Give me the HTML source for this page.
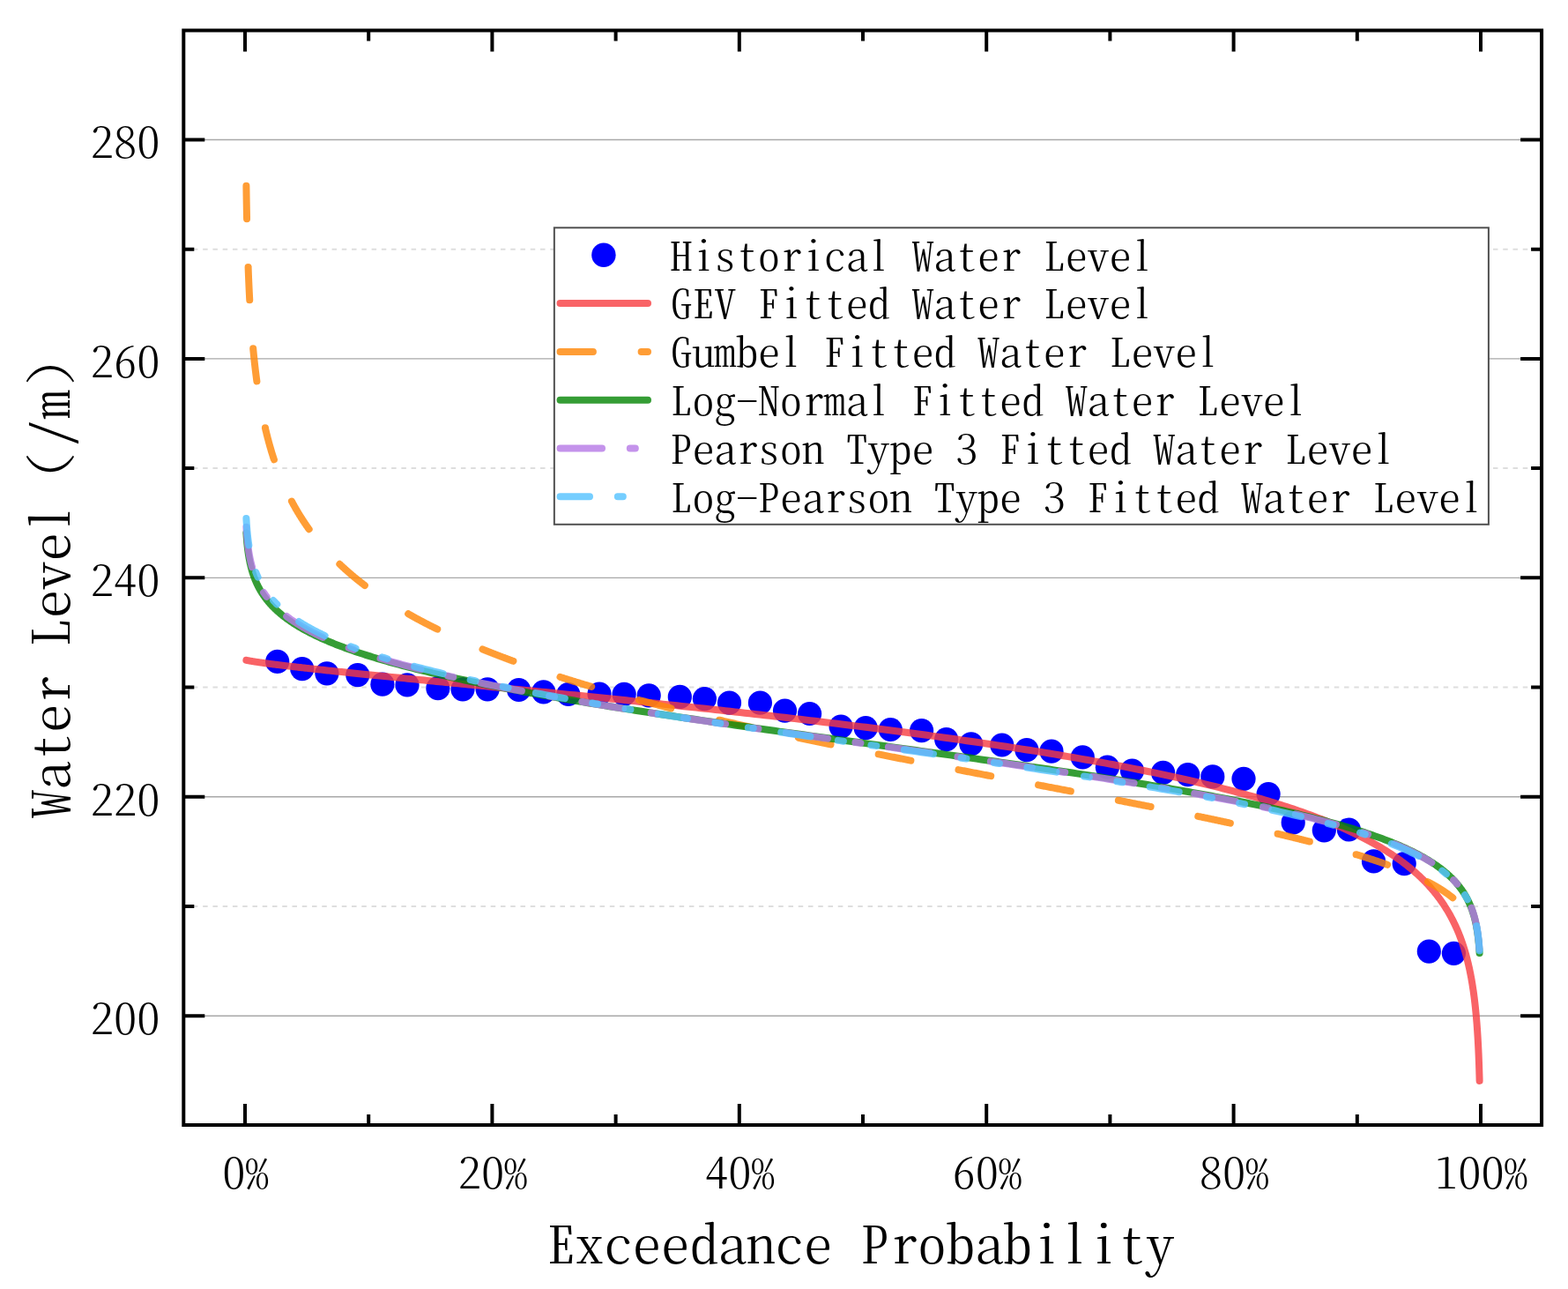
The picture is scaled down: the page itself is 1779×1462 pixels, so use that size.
<!DOCTYPE html><html><head><meta charset="utf-8"><title>Exceedance Probability</title>
<style>html,body{margin:0;padding:0;background:#fff;width:1779px;height:1462px}svg{display:block}.t{font-family:"Noto Serif CJK SC","Liberation Serif",serif;font-feature-settings:"hwid" 1;font-weight:300;fill:#000}.fw{font-feature-settings:normal}</style></head><body>
<svg width="1779" height="1462" viewBox="0 0 1779 1462">
<rect width="1779" height="1462" fill="#fff"/>
<line x1="218.9" y1="282.67" x2="1747.1" y2="282.67" stroke="#dedede" stroke-width="2" stroke-dasharray="5.5 5.76"/>
<line x1="218.9" y1="531.12" x2="1747.1" y2="531.12" stroke="#dedede" stroke-width="2" stroke-dasharray="5.5 5.76"/>
<line x1="218.9" y1="779.58" x2="1747.1" y2="779.58" stroke="#dedede" stroke-width="2" stroke-dasharray="5.5 5.76"/>
<line x1="218.9" y1="1028.02" x2="1747.1" y2="1028.02" stroke="#dedede" stroke-width="2" stroke-dasharray="5.5 5.76"/>
<line x1="208.3" y1="158.45" x2="1749.1" y2="158.45" stroke="#a8a8a8" stroke-width="1.4"/>
<line x1="208.3" y1="406.90" x2="1749.1" y2="406.90" stroke="#a8a8a8" stroke-width="1.4"/>
<line x1="208.3" y1="655.35" x2="1749.1" y2="655.35" stroke="#a8a8a8" stroke-width="1.4"/>
<line x1="208.3" y1="903.80" x2="1749.1" y2="903.80" stroke="#a8a8a8" stroke-width="1.4"/>
<line x1="208.3" y1="1152.25" x2="1749.1" y2="1152.25" stroke="#a8a8a8" stroke-width="1.4"/>
<g fill="#0000ff">
<circle cx="314.7" cy="750.4" r="13.6"/>
<circle cx="342.8" cy="758.7" r="13.6"/>
<circle cx="370.9" cy="763.8" r="13.6"/>
<circle cx="405.8" cy="765.6" r="13.6"/>
<circle cx="433.9" cy="776.2" r="13.6"/>
<circle cx="462.0" cy="776.9" r="13.6"/>
<circle cx="496.9" cy="780.7" r="13.6"/>
<circle cx="525.0" cy="781.8" r="13.6"/>
<circle cx="553.1" cy="781.8" r="13.6"/>
<circle cx="588.6" cy="782.5" r="13.6"/>
<circle cx="616.7" cy="784.8" r="13.6"/>
<circle cx="644.8" cy="787.5" r="13.6"/>
<circle cx="680.0" cy="787.0" r="13.6"/>
<circle cx="708.1" cy="787.4" r="13.6"/>
<circle cx="736.2" cy="788.8" r="13.6"/>
<circle cx="771.3" cy="790.4" r="13.6"/>
<circle cx="799.4" cy="792.6" r="13.6"/>
<circle cx="827.5" cy="797.1" r="13.6"/>
<circle cx="862.4" cy="797.1" r="13.6"/>
<circle cx="890.5" cy="806.1" r="13.6"/>
<circle cx="918.6" cy="809.5" r="13.6"/>
<circle cx="954.1" cy="824.1" r="13.6"/>
<circle cx="982.2" cy="825.7" r="13.6"/>
<circle cx="1010.3" cy="827.5" r="13.6"/>
<circle cx="1045.6" cy="828.7" r="13.6"/>
<circle cx="1073.7" cy="838.7" r="13.6"/>
<circle cx="1101.8" cy="843.8" r="13.6"/>
<circle cx="1136.8" cy="845.0" r="13.6"/>
<circle cx="1164.9" cy="850.6" r="13.6"/>
<circle cx="1193.0" cy="852.2" r="13.6"/>
<circle cx="1228.3" cy="858.9" r="13.6"/>
<circle cx="1256.4" cy="870.2" r="13.6"/>
<circle cx="1284.5" cy="874.2" r="13.6"/>
<circle cx="1319.6" cy="876.4" r="13.6"/>
<circle cx="1347.7" cy="878.7" r="13.6"/>
<circle cx="1375.8" cy="880.9" r="13.6"/>
<circle cx="1411.0" cy="883.3" r="13.6"/>
<circle cx="1439.1" cy="900.5" r="13.6"/>
<circle cx="1467.2" cy="932.9" r="13.6"/>
<circle cx="1502.3" cy="941.8" r="13.6"/>
<circle cx="1530.4" cy="941.0" r="13.6"/>
<circle cx="1558.5" cy="976.9" r="13.6"/>
<circle cx="1593.2" cy="979.6" r="13.6"/>
<circle cx="1621.3" cy="1079.1" r="13.6"/>
<circle cx="1649.4" cy="1081.3" r="13.6"/>
</g>
<path d="M279.40 748.78 L279.45 748.79 L279.50 748.80 L279.56 748.82 L279.61 748.83 L279.67 748.84 L279.72 748.85 L279.78 748.87 L279.85 748.88 L279.91 748.90 L279.97 748.91 L280.04 748.93 L280.11 748.94 L280.18 748.96 L280.26 748.97 L280.33 748.99 L280.41 749.00 L280.50 749.02 L280.58 749.04 L280.67 749.06 L280.75 749.07 L280.85 749.09 L280.94 749.11 L281.04 749.13 L281.14 749.15 L281.24 749.17 L281.35 749.19 L281.46 749.21 L281.57 749.24 L281.68 749.26 L281.80 749.28 L281.93 749.30 L282.05 749.33 L282.18 749.35 L282.32 749.38 L282.45 749.40 L282.59 749.43 L282.74 749.46 L282.89 749.48 L283.04 749.51 L283.20 749.54 L283.36 749.57 L283.53 749.60 L283.70 749.63 L283.88 749.66 L284.06 749.69 L284.25 749.72 L284.44 749.76 L284.63 749.79 L284.84 749.82 L285.04 749.86 L285.26 749.90 L285.47 749.93 L285.70 749.97 L285.93 750.01 L286.17 750.05 L286.41 750.09 L286.66 750.13 L286.91 750.17 L287.18 750.21 L287.45 750.25 L287.72 750.30 L288.00 750.34 L288.29 750.39 L288.59 750.44 L288.90 750.48 L289.21 750.53 L289.53 750.58 L289.86 750.63 L290.20 750.68 L290.54 750.74 L290.90 750.79 L291.26 750.84 L291.63 750.90 L292.01 750.95 L292.40 751.01 L292.80 751.07 L293.21 751.13 L293.63 751.19 L294.06 751.25 L294.50 751.32 L294.95 751.38 L295.41 751.45 L295.88 751.51 L296.36 751.58 L296.86 751.65 L297.36 751.72 L297.88 751.79 L298.40 751.87 L298.94 751.94 L299.50 752.01 L300.06 752.09 L300.64 752.17 L301.23 752.25 L301.83 752.33 L302.45 752.41 L303.08 752.50 L303.72 752.58 L304.38 752.67 L305.05 752.76 L305.74 752.85 L306.44 752.94 L307.16 753.03 L307.89 753.12 L308.64 753.22 L309.40 753.32 L310.18 753.42 L310.98 753.52 L311.79 753.62 L312.62 753.72 L313.46 753.83 L314.32 753.93 L315.20 754.04 L316.10 754.15 L317.02 754.27 L317.95 754.38 L318.90 754.50 L319.88 754.61 L320.87 754.73 L321.88 754.86 L322.91 754.98 L323.95 755.10 L325.02 755.23 L326.11 755.36 L327.22 755.49 L328.36 755.62 L329.51 755.76 L330.68 755.89 L331.88 756.03 L333.10 756.17 L334.34 756.32 L335.60 756.46 L336.89 756.61 L338.19 756.76 L339.53 756.91 L340.88 757.06 L342.26 757.22 L343.67 757.38 L345.10 757.54 L346.55 757.70 L348.03 757.86 L349.53 758.03 L351.06 758.20 L352.62 758.37 L354.20 758.54 L355.81 758.72 L357.44 758.90 L359.10 759.08 L360.79 759.26 L362.51 759.45 L364.25 759.64 L366.02 759.83 L367.82 760.02 L369.65 760.22 L371.51 760.41 L373.39 760.62 L375.31 760.82 L377.25 761.02 L379.23 761.23 L381.23 761.44 L383.27 761.66 L385.33 761.87 L387.43 762.09 L389.55 762.31 L391.71 762.54 L393.90 762.77 L396.12 763.00 L398.38 763.23 L400.66 763.46 L402.98 763.70 L405.33 763.94 L407.71 764.19 L410.12 764.43 L412.57 764.68 L415.05 764.94 L417.57 765.19 L420.11 765.45 L422.69 765.71 L425.31 765.97 L427.96 766.24 L430.64 766.51 L433.36 766.79 L436.11 767.06 L438.90 767.34 L441.72 767.62 L444.58 767.91 L447.47 768.20 L450.40 768.49 L453.36 768.78 L456.36 769.08 L459.39 769.38 L462.46 769.69 L465.56 770.00 L468.70 770.31 L471.88 770.62 L475.09 770.94 L478.34 771.26 L481.62 771.58 L484.94 771.91 L488.30 772.24 L491.69 772.57 L495.12 772.91 L498.58 773.25 L502.08 773.60 L505.62 773.94 L509.19 774.29 L512.80 774.65 L516.44 775.01 L520.12 775.37 L523.84 775.73 L527.59 776.10 L531.38 776.47 L535.20 776.85 L539.06 777.22 L542.96 777.61 L546.89 777.99 L550.86 778.38 L554.86 778.77 L558.90 779.17 L562.97 779.57 L567.08 779.97 L571.22 780.38 L575.40 780.79 L579.61 781.21 L583.86 781.62 L588.14 782.04 L592.45 782.47 L596.80 782.90 L601.18 783.33 L605.60 783.77 L610.05 784.21 L614.53 784.65 L619.05 785.10 L623.59 785.55 L628.17 786.01 L632.78 786.47 L637.43 786.93 L642.10 787.40 L646.81 787.87 L651.55 788.34 L656.31 788.82 L661.11 789.30 L665.94 789.79 L670.80 790.28 L675.68 790.77 L680.60 791.27 L685.54 791.77 L690.52 792.27 L695.52 792.78 L700.54 793.30 L705.60 793.81 L710.68 794.33 L715.79 794.86 L720.92 795.39 L726.08 795.92 L731.27 796.46 L736.47 797.00 L741.71 797.54 L746.96 798.09 L752.24 798.65 L757.55 799.20 L762.87 799.76 L768.22 800.33 L773.59 800.90 L778.98 801.47 L784.38 802.05 L789.81 802.63 L795.26 803.21 L800.73 803.80 L806.22 804.39 L811.72 804.99 L817.24 805.59 L822.78 806.20 L828.33 806.81 L833.90 807.42 L839.49 808.04 L845.09 808.66 L850.70 809.29 L856.32 809.92 L861.96 810.55 L867.62 811.19 L873.28 811.83 L878.95 812.48 L884.64 813.13 L890.33 813.79 L896.04 814.45 L901.75 815.11 L907.47 815.78 L913.20 816.45 L918.94 817.12 L924.68 817.80 L930.43 818.49 L936.18 819.18 L941.94 819.87 L947.70 820.57 L953.46 821.27 L959.23 821.97 L965.00 822.68 L970.77 823.40 L976.55 824.11 L982.32 824.84 L988.09 825.56 L993.86 826.29 L999.63 827.03 L1005.40 827.77 L1011.16 828.51 L1016.92 829.26 L1022.68 830.01 L1028.43 830.76 L1034.18 831.53 L1039.92 832.29 L1045.66 833.06 L1051.38 833.83 L1057.10 834.61 L1062.82 835.39 L1068.52 836.18 L1074.21 836.97 L1079.90 837.76 L1085.57 838.56 L1091.23 839.36 L1096.88 840.17 L1102.52 840.98 L1108.14 841.79 L1113.75 842.61 L1119.35 843.44 L1124.93 844.27 L1130.50 845.10 L1136.05 845.94 L1141.59 846.78 L1147.11 847.62 L1152.61 848.47 L1158.09 849.33 L1163.55 850.18 L1169.00 851.05 L1174.43 851.91 L1179.83 852.78 L1185.22 853.66 L1190.58 854.54 L1195.93 855.42 L1201.25 856.31 L1206.55 857.20 L1211.82 858.10 L1217.08 859.00 L1222.31 859.91 L1227.51 860.82 L1232.69 861.73 L1237.85 862.65 L1242.98 863.57 L1248.08 864.50 L1253.16 865.43 L1258.21 866.36 L1263.23 867.30 L1268.23 868.25 L1273.20 869.19 L1278.14 870.15 L1283.05 871.10 L1287.93 872.06 L1292.78 873.03 L1297.61 874.00 L1302.40 874.97 L1307.16 875.95 L1311.90 876.93 L1316.60 877.92 L1321.27 878.91 L1325.91 879.90 L1330.51 880.90 L1335.09 881.91 L1339.63 882.91 L1344.14 883.92 L1348.62 884.94 L1353.06 885.96 L1357.47 886.99 L1361.85 888.01 L1366.20 889.05 L1370.50 890.09 L1374.78 891.13 L1379.02 892.17 L1383.23 893.22 L1387.40 894.28 L1391.54 895.34 L1395.64 896.40 L1399.71 897.47 L1403.74 898.54 L1407.74 899.61 L1411.70 900.69 L1415.63 901.78 L1419.52 902.86 L1423.37 903.96 L1427.19 905.05 L1430.97 906.15 L1434.72 907.26 L1438.43 908.37 L1442.11 909.48 L1445.75 910.60 L1449.35 911.72 L1452.92 912.85 L1456.45 913.98 L1459.94 915.11 L1463.40 916.25 L1466.82 917.39 L1470.21 918.54 L1473.56 919.69 L1476.87 920.85 L1480.15 922.01 L1483.39 923.17 L1486.60 924.34 L1489.77 925.51 L1492.90 926.69 L1496.00 927.87 L1499.07 929.05 L1502.09 930.24 L1505.09 931.43 L1508.04 932.63 L1510.96 933.83 L1513.85 935.04 L1516.70 936.25 L1519.52 937.46 L1522.30 938.68 L1525.05 939.90 L1527.76 941.12 L1530.44 942.36 L1533.08 943.59 L1535.69 944.83 L1538.27 946.07 L1540.81 947.32 L1543.32 948.57 L1545.80 949.82 L1548.24 951.08 L1550.65 952.35 L1553.03 953.61 L1555.37 954.88 L1557.68 956.16 L1559.96 957.44 L1562.21 958.72 L1564.43 960.01 L1566.61 961.30 L1568.77 962.60 L1570.89 963.90 L1572.98 965.20 L1575.04 966.51 L1577.07 967.82 L1579.07 969.14 L1581.04 970.46 L1582.98 971.78 L1584.89 973.11 L1586.77 974.45 L1588.63 975.78 L1590.45 977.12 L1592.25 978.47 L1594.01 979.82 L1595.75 981.17 L1597.47 982.53 L1599.15 983.89 L1600.81 985.25 L1602.44 986.62 L1604.04 987.99 L1605.62 989.37 L1607.17 990.75 L1608.70 992.14 L1610.20 993.53 L1611.67 994.92 L1613.12 996.32 L1614.54 997.72 L1615.95 999.12 L1617.32 1000.53 L1618.67 1001.94 L1620.00 1003.36 L1621.31 1004.78 L1622.59 1006.21 L1623.85 1007.64 L1625.09 1009.07 L1626.30 1010.51 L1627.49 1011.95 L1628.67 1013.39 L1629.81 1014.84 L1630.94 1016.29 L1632.05 1017.75 L1633.14 1019.21 L1634.20 1020.68 L1635.25 1022.14 L1636.28 1023.62 L1637.28 1025.09 L1638.27 1026.57 L1639.24 1028.06 L1640.19 1029.55 L1641.12 1031.04 L1642.03 1032.53 L1642.93 1034.03 L1643.81 1035.54 L1644.67 1037.05 L1645.51 1038.56 L1646.34 1040.07 L1647.14 1041.59 L1647.94 1043.12 L1648.71 1044.64 L1649.47 1046.17 L1650.22 1047.71 L1650.95 1049.25 L1651.66 1050.79 L1652.36 1052.34 L1653.05 1053.89 L1653.72 1055.44 L1654.37 1057.00 L1655.02 1058.56 L1655.64 1060.13 L1656.26 1061.70 L1656.86 1063.27 L1657.45 1064.85 L1658.02 1066.43 L1658.59 1068.02 L1659.14 1069.61 L1659.68 1071.20 L1660.20 1072.80 L1660.72 1074.40 L1661.22 1076.00 L1661.71 1077.61 L1662.19 1079.22 L1662.66 1080.84 L1663.12 1082.46 L1663.57 1084.08 L1664.00 1085.71 L1664.43 1087.34 L1664.85 1088.98 L1665.26 1090.61 L1665.65 1092.26 L1666.04 1093.90 L1666.42 1095.55 L1666.79 1097.21 L1667.16 1098.86 L1667.51 1100.53 L1667.85 1102.19 L1668.19 1103.86 L1668.52 1105.53 L1668.84 1107.21 L1669.15 1108.89 L1669.45 1110.57 L1669.75 1112.26 L1670.04 1113.95 L1670.32 1115.65 L1670.60 1117.35 L1670.86 1119.05 L1671.13 1120.76 L1671.38 1122.47 L1671.63 1124.18 L1671.87 1125.90 L1672.11 1127.62 L1672.33 1129.34 L1672.56 1131.07 L1672.78 1132.80 L1672.99 1134.54 L1673.19 1136.28 L1673.40 1138.02 L1673.59 1139.77 L1673.78 1141.52 L1673.97 1143.28 L1674.15 1145.04 L1674.32 1146.80 L1674.49 1148.56 L1674.66 1150.33 L1674.82 1152.11 L1674.98 1153.88 L1675.13 1155.66 L1675.28 1157.45 L1675.43 1159.23 L1675.57 1161.03 L1675.70 1162.82 L1675.84 1164.62 L1675.97 1166.42 L1676.09 1168.23 L1676.21 1170.04 L1676.33 1171.85 L1676.45 1173.67 L1676.56 1175.49 L1676.67 1177.31 L1676.78 1179.14 L1676.88 1180.97 L1676.98 1182.81 L1677.07 1184.64 L1677.17 1186.49 L1677.26 1188.33 L1677.35 1190.18 L1677.43 1192.03 L1677.52 1193.89 L1677.60 1195.75 L1677.68 1197.61 L1677.75 1199.48 L1677.83 1201.35 L1677.90 1203.23 L1677.97 1205.11 L1678.04 1206.99 L1678.10 1208.87 L1678.16 1210.76 L1678.23 1212.65 L1678.28 1214.55 L1678.34 1216.45 L1678.40 1218.35 L1678.45 1220.26 L1678.51 1222.17 L1678.56 1224.08 L1678.61 1226.00" fill="none" stroke="rgba(248,60,64,0.8)" stroke-width="8" stroke-linecap="round" stroke-linejoin="round"/>
<path d="M279.40 210.86 L279.40 210.95 L279.41 211.66 L279.42 212.38 L279.43 213.09 L279.44 213.80 L279.46 214.52 L279.47 215.23 L279.48 215.94 L279.49 216.65 L279.50 217.37 L279.51 218.08 L279.52 218.79 L279.53 219.50 L279.54 220.21 L279.55 220.92 L279.56 221.63 L279.58 222.34 L279.59 223.04 L279.60 223.75 L279.61 224.46 L279.62 225.17 L279.63 225.87 L279.65 226.58 L279.66 227.28 L279.67 227.99 L279.68 228.69 L279.69 229.40 L279.71 230.10 L279.72 230.81 L279.73 231.51 L279.74 232.21 L279.76 232.91 L279.77 233.62 L279.78 234.32 L279.79 235.02 L279.81 235.72 L279.82 236.42 L279.83 237.12 L279.85 237.82 L279.86 238.52 L279.87 239.22 L279.89 239.91 L279.90 240.61 L279.91 241.31 L279.93 242.01 L279.94 242.70 L279.95 243.40 L279.97 244.09 L279.98 244.79 L280.00 245.48 L280.01 246.18 L280.02 246.87 L280.04 247.56 L280.05 248.25 M281.58 302.88 L281.58 302.90 L281.61 303.56 L281.63 304.22 L281.66 304.88 L281.68 305.53 L281.71 306.19 L281.73 306.85 L281.76 307.50 L281.78 308.16 L281.81 308.81 L281.83 309.47 L281.86 310.12 L281.88 310.77 L281.91 311.43 L281.93 312.08 L281.96 312.73 L281.99 313.39 L282.01 314.04 L282.04 314.69 L282.07 315.34 L282.09 315.99 L282.12 316.64 L282.15 317.29 L282.18 317.94 L282.20 318.59 L282.23 319.24 L282.26 319.88 L282.29 320.53 L282.32 321.18 L282.35 321.83 L282.37 322.47 L282.40 323.12 L282.43 323.76 L282.46 324.41 L282.49 325.05 L282.52 325.70 L282.55 326.34 L282.58 326.98 L282.61 327.63 L282.64 328.27 L282.67 328.91 L282.70 329.55 L282.73 330.19 L282.76 330.84 L282.79 331.48 L282.83 332.12 L282.86 332.76 L282.89 333.40 L282.92 334.03 L282.95 334.67 L282.99 335.31 L283.02 335.95 L283.05 336.58 L283.08 337.22 L283.12 337.86 L283.15 338.49 L283.18 339.13 L283.22 339.76 L283.24 340.24 M287.18 395.25 L287.18 395.30 L287.24 395.90 L287.29 396.49 L287.35 397.09 L287.41 397.69 L287.46 398.28 L287.52 398.88 L287.58 399.47 L287.64 400.07 L287.70 400.66 L287.75 401.26 L287.81 401.85 L287.87 402.44 L287.93 403.04 L287.99 403.63 L288.05 404.22 L288.11 404.81 L288.17 405.40 L288.24 405.99 L288.30 406.58 L288.36 407.17 L288.42 407.76 L288.48 408.35 L288.55 408.94 L288.61 409.53 L288.67 410.12 L288.74 410.70 L288.80 411.29 L288.87 411.88 L288.93 412.46 L289.00 413.05 L289.06 413.63 L289.13 414.22 L289.19 414.80 L289.26 415.39 L289.33 415.97 L289.40 416.55 L289.46 417.14 L289.53 417.72 L289.60 418.30 L289.67 418.88 L289.74 419.46 L289.81 420.04 L289.88 420.62 L289.95 421.20 L290.02 421.78 L290.09 422.36 L290.16 422.94 L290.23 423.52 L290.30 424.10 L290.38 424.68 L290.45 425.25 L290.52 425.83 L290.60 426.41 L290.67 426.98 L290.74 427.56 L290.82 428.13 L290.89 428.71 L290.97 429.28 L291.05 429.86 L291.12 430.43 L291.20 431.00 L291.27 431.58 L291.35 432.15 L291.39 432.41 M300.89 485.29 L300.89 485.31 L301.01 485.84 L301.14 486.38 L301.26 486.91 L301.39 487.44 L301.52 487.97 L301.64 488.51 L301.77 489.04 L301.90 489.57 L302.03 490.10 L302.16 490.63 L302.29 491.16 L302.42 491.69 L302.55 492.22 L302.68 492.75 L302.81 493.28 L302.94 493.80 L303.08 494.33 L303.21 494.86 L303.35 495.39 L303.48 495.91 L303.62 496.44 L303.75 496.96 L303.89 497.49 L304.03 498.01 L304.17 498.54 L304.31 499.06 L304.45 499.59 L304.59 500.11 L304.73 500.63 L304.87 501.16 L305.01 501.68 L305.15 502.20 L305.30 502.72 L305.44 503.24 L305.59 503.76 L305.73 504.28 L305.88 504.80 L306.02 505.32 L306.17 505.84 L306.32 506.36 L306.47 506.88 L306.62 507.40 L306.77 507.92 L306.92 508.43 L307.07 508.95 L307.22 509.47 L307.37 509.98 L307.53 510.50 L307.68 511.01 L307.84 511.53 L307.99 512.04 L308.15 512.56 L308.30 513.07 L308.46 513.58 L308.62 514.10 L308.78 514.61 L308.94 515.12 L309.10 515.63 L309.26 516.14 L309.42 516.66 L309.58 517.17 L309.75 517.68 L309.91 518.19 L310.07 518.70 L310.24 519.21 L310.40 519.71 L310.57 520.22 L310.74 520.73 L310.91 521.24 L310.93 521.30 M330.91 568.49 L330.92 568.52 L331.17 568.99 L331.42 569.46 L331.67 569.93 L331.93 570.40 L332.18 570.87 L332.44 571.34 L332.69 571.81 L332.95 572.28 L333.21 572.75 L333.47 573.21 L333.73 573.68 L333.99 574.15 L334.25 574.62 L334.51 575.08 L334.78 575.55 L335.04 576.01 L335.31 576.48 L335.57 576.94 L335.84 577.41 L336.11 577.87 L336.38 578.34 L336.65 578.80 L336.92 579.26 L337.20 579.73 L337.47 580.19 L337.75 580.65 L338.02 581.11 L338.30 581.58 L338.58 582.04 L338.86 582.50 L339.14 582.96 L339.42 583.42 L339.70 583.88 L339.98 584.34 L340.27 584.80 L340.55 585.25 L340.84 585.71 L341.13 586.17 L341.42 586.63 L341.70 587.08 L342.00 587.54 L342.29 588.00 L342.58 588.45 L342.87 588.91 L343.17 589.37 L343.47 589.82 L343.76 590.27 L344.06 590.73 L344.36 591.18 L344.66 591.64 L344.96 592.09 L345.26 592.54 L345.57 593.00 L345.87 593.45 L346.18 593.90 L346.49 594.35 L346.79 594.80 L347.10 595.25 L347.41 595.70 L347.72 596.15 L348.04 596.60 L348.35 597.05 L348.67 597.50 L348.98 597.95 L349.30 598.40 L349.62 598.85 L349.94 599.29 L350.26 599.74 L350.58 600.19 L350.62 600.24 M385.35 639.84 L385.39 639.87 L385.83 640.28 L386.27 640.70 L386.71 641.11 L387.15 641.53 L387.59 641.94 L388.03 642.35 L388.48 642.77 L388.93 643.18 L389.38 643.59 L389.83 644.00 L390.28 644.42 L390.73 644.83 L391.18 645.24 L391.64 645.65 L392.10 646.06 L392.55 646.47 L393.01 646.88 L393.48 647.29 L393.94 647.70 L394.40 648.10 L394.87 648.51 L395.33 648.92 L395.80 649.33 L396.27 649.74 L396.74 650.14 L397.21 650.55 L397.69 650.96 L398.16 651.36 L398.64 651.77 L399.12 652.17 L399.59 652.58 L400.08 652.98 L400.56 653.39 L401.04 653.79 L401.53 654.19 L402.01 654.60 L402.50 655.00 L402.99 655.40 L403.48 655.81 L403.97 656.21 L404.46 656.61 L404.96 657.01 L405.46 657.41 L405.95 657.81 L406.45 658.21 L406.95 658.61 L407.46 659.01 L407.96 659.41 L408.46 659.81 L408.97 660.21 L409.48 660.61 L409.99 661.01 L410.50 661.41 L411.01 661.80 L411.52 662.20 L412.04 662.60 L412.56 662.99 L413.07 663.39 L413.59 663.79 L413.87 664.00 M463.17 696.24 L463.18 696.25 L463.83 696.62 L464.48 696.99 L465.14 697.35 L465.79 697.72 L466.45 698.09 L467.11 698.46 L467.77 698.83 L468.43 699.19 L469.09 699.56 L469.76 699.93 L470.42 700.29 L471.09 700.66 L471.76 701.02 L472.43 701.39 L473.10 701.75 L473.78 702.12 L474.45 702.48 L475.13 702.85 L475.81 703.21 L476.49 703.58 L477.17 703.94 L477.85 704.30 L478.54 704.66 L479.23 705.03 L479.92 705.39 L480.61 705.75 L481.30 706.11 L481.99 706.47 L482.68 706.83 L483.38 707.19 L484.08 707.56 L484.78 707.92 L485.48 708.27 L486.18 708.63 L486.89 708.99 L487.59 709.35 L488.30 709.71 L489.01 710.07 L489.72 710.43 L490.43 710.78 L491.15 711.14 L491.86 711.50 L492.58 711.86 L493.30 712.21 L494.02 712.57 L494.74 712.92 L495.46 713.28 L496.19 713.64 L496.26 713.67 M547.47 736.42 L547.55 736.46 L548.38 736.79 L549.21 737.13 L550.05 737.47 L550.88 737.80 L551.72 738.14 L552.56 738.47 L553.40 738.81 L554.24 739.14 L555.09 739.47 L555.93 739.81 L556.78 740.14 L557.63 740.48 L558.48 740.81 L559.33 741.14 L560.18 741.47 L561.04 741.81 L561.89 742.14 L562.75 742.47 L563.61 742.80 L564.47 743.13 L565.33 743.46 L566.19 743.80 L567.06 744.13 L567.93 744.46 L568.79 744.79 L569.66 745.12 L570.54 745.44 L571.41 745.77 L572.28 746.10 L573.16 746.43 L574.04 746.76 L574.92 747.09 L575.80 747.41 L576.68 747.74 L577.56 748.07 L578.45 748.40 L579.33 748.72 L580.22 749.05 L581.11 749.38 L582.00 749.70 L582.38 749.84 M635.43 767.90 L635.49 767.92 L636.47 768.23 L637.45 768.54 L638.42 768.85 L639.40 769.16 L640.39 769.47 L641.37 769.78 L642.35 770.09 L643.34 770.40 L644.33 770.71 L645.32 771.02 L646.30 771.33 L647.30 771.64 L648.29 771.94 L649.28 772.25 L650.28 772.56 L651.27 772.86 L652.27 773.17 L653.27 773.48 L654.27 773.78 L655.28 774.09 L656.28 774.40 L657.28 774.70 L658.29 775.01 L659.30 775.31 L660.31 775.62 L661.32 775.92 L662.33 776.23 L663.34 776.53 L664.35 776.83 L665.37 777.14 L666.39 777.44 L667.40 777.74 L668.42 778.05 L669.44 778.35 L670.47 778.65 L671.19 778.87 M725.11 793.99 L725.16 794.01 L726.25 794.30 L727.34 794.59 L728.42 794.88 L729.51 795.16 L730.60 795.45 L731.69 795.74 L732.79 796.03 L733.88 796.32 L734.97 796.61 L736.07 796.89 L737.16 797.18 L738.26 797.47 L739.36 797.76 L740.46 798.04 L741.56 798.33 L742.66 798.61 L743.76 798.90 L744.87 799.19 L745.97 799.47 L747.08 799.76 L748.18 800.04 L749.29 800.33 L750.40 800.61 L751.51 800.90 L752.62 801.18 L753.73 801.47 L754.85 801.75 L755.96 802.03 L757.07 802.32 L758.19 802.60 L759.31 802.88 L760.42 803.16 L761.31 803.39 M816.06 816.69 L816.15 816.71 L817.31 816.98 L818.47 817.25 L819.63 817.52 L820.79 817.79 L821.96 818.07 L823.12 818.34 L824.28 818.61 L825.45 818.88 L826.62 819.15 L827.78 819.42 L828.95 819.69 L830.12 819.96 L831.29 820.22 L832.46 820.49 L833.63 820.76 L834.80 821.03 L835.97 821.30 L837.14 821.57 L838.32 821.83 L839.49 822.10 L840.66 822.37 L841.84 822.64 L843.01 822.90 L844.19 823.17 L845.37 823.44 L846.55 823.70 L847.72 823.97 L848.90 824.24 L850.08 824.50 L851.26 824.77 L852.44 825.03 L852.52 825.05 M905.91 836.72 L905.93 836.73 L907.14 836.98 L908.34 837.24 L909.54 837.50 L910.74 837.75 L911.95 838.01 L913.15 838.26 L914.35 838.52 L915.56 838.77 L916.76 839.03 L917.97 839.28 L919.17 839.53 L920.38 839.79 L921.58 840.04 L922.79 840.29 L923.99 840.55 L925.20 840.80 L926.41 841.05 L927.61 841.31 L928.82 841.56 L930.03 841.81 L931.23 842.06 L932.44 842.31 L933.65 842.57 L934.86 842.82 L936.07 843.07 L937.27 843.32 L938.48 843.57 L939.69 843.82 L940.90 844.07 L942.11 844.32 L942.51 844.41 M996.70 855.41 L996.77 855.42 L997.98 855.66 L999.19 855.90 L1000.40 856.14 L1001.61 856.39 L1002.82 856.63 L1004.03 856.87 L1005.24 857.11 L1006.45 857.35 L1007.66 857.59 L1008.87 857.83 L1010.08 858.07 L1011.29 858.31 L1012.50 858.55 L1013.71 858.79 L1014.92 859.03 L1016.13 859.26 L1017.34 859.50 L1018.55 859.74 L1019.76 859.98 L1020.97 860.22 L1022.18 860.46 L1023.38 860.69 L1024.59 860.93 L1025.80 861.17 L1027.01 861.41 L1028.21 861.64 L1029.42 861.88 L1030.63 862.12 L1031.84 862.35 L1033.04 862.59 L1033.39 862.66 M1087.49 873.14 L1087.58 873.16 L1088.77 873.39 L1089.95 873.61 L1091.14 873.84 L1092.33 874.07 L1093.51 874.30 L1094.70 874.52 L1095.89 874.75 L1097.07 874.98 L1098.26 875.21 L1099.44 875.43 L1100.62 875.66 L1101.81 875.89 L1102.99 876.11 L1104.17 876.34 L1105.35 876.56 L1106.53 876.79 L1107.71 877.01 L1108.89 877.24 L1110.07 877.46 L1111.25 877.69 L1112.43 877.91 L1113.60 878.14 L1114.78 878.36 L1115.95 878.59 L1117.13 878.81 L1118.30 879.04 L1119.48 879.26 L1120.65 879.48 L1121.82 879.71 L1123.00 879.93 L1124.17 880.15 L1124.22 880.16 M1178.10 890.41 L1178.23 890.44 L1179.37 890.65 L1180.50 890.87 L1181.63 891.08 L1182.76 891.30 L1183.89 891.51 L1185.02 891.73 L1186.15 891.94 L1187.28 892.16 L1188.40 892.37 L1189.53 892.58 L1190.65 892.80 L1191.78 893.01 L1192.90 893.22 L1194.02 893.44 L1195.14 893.65 L1196.26 893.86 L1197.38 894.08 L1198.50 894.29 L1199.62 894.50 L1200.73 894.72 L1201.85 894.93 L1202.96 895.14 L1204.07 895.35 L1205.18 895.56 L1206.30 895.78 L1207.41 895.99 L1208.51 896.20 L1209.62 896.41 L1210.73 896.62 L1211.83 896.83 L1212.94 897.04 L1214.04 897.25 L1214.84 897.41 M1268.90 907.81 L1269.00 907.83 L1270.05 908.03 L1271.09 908.23 L1272.13 908.44 L1273.17 908.64 L1274.21 908.84 L1275.25 909.04 L1276.29 909.25 L1277.32 909.45 L1278.36 909.65 L1279.39 909.85 L1280.42 910.05 L1281.45 910.26 L1282.48 910.46 L1283.51 910.66 L1284.54 910.86 L1285.56 911.06 L1286.59 911.26 L1287.61 911.46 L1288.63 911.66 L1289.65 911.86 L1290.67 912.06 L1291.69 912.26 L1292.71 912.46 L1293.72 912.66 L1294.74 912.86 L1295.75 913.06 L1296.76 913.26 L1297.77 913.46 L1298.78 913.66 L1299.79 913.86 L1300.79 914.06 L1301.80 914.25 L1302.80 914.45 L1303.80 914.65 L1304.80 914.85 L1305.60 915.01 M1359.27 925.87 L1359.31 925.88 L1360.23 926.07 L1361.14 926.26 L1362.06 926.45 L1362.97 926.64 L1363.89 926.83 L1364.80 927.02 L1365.71 927.21 L1366.62 927.39 L1367.52 927.58 L1368.43 927.77 L1369.33 927.96 L1370.23 928.15 L1371.14 928.34 L1372.03 928.53 L1372.93 928.72 L1373.83 928.91 L1374.72 929.09 L1375.62 929.28 L1376.51 929.47 L1377.40 929.66 L1378.29 929.85 L1379.18 930.03 L1380.06 930.22 L1380.95 930.41 L1381.83 930.60 L1382.71 930.78 L1383.59 930.97 L1384.47 931.16 L1385.34 931.35 L1386.22 931.53 L1387.09 931.72 L1387.97 931.90 L1388.84 932.09 L1389.70 932.28 L1390.57 932.46 L1391.44 932.65 L1392.30 932.84 L1393.17 933.02 L1394.03 933.21 L1394.89 933.39 L1395.74 933.58 L1395.86 933.60 M1449.56 945.69 L1449.58 945.69 L1450.33 945.87 L1451.08 946.05 L1451.83 946.22 L1452.58 946.40 L1453.32 946.58 L1454.07 946.75 L1454.81 946.93 L1455.55 947.11 L1456.29 947.28 L1457.02 947.46 L1457.76 947.63 L1458.49 947.81 L1459.23 947.99 L1459.96 948.16 L1460.69 948.34 L1461.41 948.51 L1462.14 948.69 L1462.86 948.86 L1463.59 949.04 L1464.31 949.21 L1465.03 949.39 L1465.74 949.56 L1466.46 949.74 L1467.18 949.91 L1467.89 950.08 L1468.60 950.26 L1469.31 950.43 L1470.02 950.61 L1470.73 950.78 L1471.43 950.95 L1472.13 951.13 L1472.84 951.30 L1473.54 951.48 L1474.24 951.65 L1474.93 951.82 L1475.63 951.99 L1476.32 952.17 L1477.01 952.34 L1477.71 952.51 L1478.39 952.69 L1479.08 952.86 L1479.77 953.03 L1480.45 953.20 L1481.14 953.38 L1481.82 953.55 L1482.50 953.72 L1483.18 953.89 L1483.85 954.06 L1484.53 954.23 L1485.20 954.41 L1485.87 954.58 L1485.89 954.58 M1538.56 969.14 L1538.57 969.14 L1539.10 969.30 L1539.64 969.46 L1540.17 969.62 L1540.70 969.79 L1541.23 969.95 L1541.76 970.11 L1542.29 970.27 L1542.81 970.43 L1543.34 970.59 L1543.86 970.75 L1544.38 970.91 L1544.90 971.08 L1545.42 971.24 L1545.94 971.40 L1546.45 971.56 L1546.96 971.72 L1547.48 971.88 L1547.99 972.04 L1548.50 972.20 L1549.00 972.36 L1549.51 972.52 L1550.02 972.68 L1550.52 972.84 L1551.02 973.00 L1551.52 973.16 L1552.02 973.32 L1552.52 973.48 L1553.02 973.64 L1553.51 973.80 L1554.00 973.96 L1554.50 974.11 L1554.99 974.27 L1555.48 974.43 L1555.96 974.59 L1556.45 974.75 L1556.94 974.91 L1557.42 975.07 L1557.90 975.22 L1558.38 975.38 L1558.86 975.54 L1559.34 975.70 L1559.81 975.86 L1560.29 976.01 L1560.76 976.17 L1561.24 976.33 L1561.71 976.49 L1562.18 976.65 L1562.64 976.80 L1563.11 976.96 L1563.58 977.12 L1564.04 977.27 L1564.50 977.43 L1564.96 977.59 L1565.42 977.74 L1565.88 977.90 L1566.34 978.06 L1566.79 978.21 L1567.25 978.37 L1567.70 978.53 L1568.15 978.68 L1568.60 978.84 L1569.05 979.00 L1569.50 979.15 L1569.94 979.31 L1570.39 979.46 L1570.83 979.62 L1571.27 979.77 L1571.71 979.93 L1572.15 980.09 L1572.59 980.24 L1573.03 980.40 L1573.46 980.55 L1573.89 980.71 L1574.10 980.78 M1619.91 1000.22 L1619.93 1000.23 L1620.21 1000.37 L1620.48 1000.51 L1620.76 1000.66 L1621.03 1000.80 L1621.30 1000.94 L1621.57 1001.08 L1621.84 1001.23 L1622.11 1001.37 L1622.38 1001.51 L1622.65 1001.66 L1622.91 1001.80 L1623.18 1001.94 L1623.44 1002.08 L1623.71 1002.22 L1623.97 1002.37 L1624.23 1002.51 L1624.49 1002.65 L1624.75 1002.79 L1625.01 1002.93 L1625.26 1003.08 L1625.52 1003.22 L1625.77 1003.36 L1626.03 1003.50 L1626.28 1003.64 L1626.53 1003.78 L1626.79 1003.93 L1627.04 1004.07 L1627.29 1004.21 L1627.53 1004.35 L1627.78 1004.49 L1628.03 1004.63 L1628.27 1004.77 L1628.52 1004.91 L1628.76 1005.05 L1629.00 1005.19 L1629.25 1005.33 L1629.49 1005.47 L1629.73 1005.61 L1629.97 1005.75 L1630.20 1005.89 L1630.44 1006.03 L1630.68 1006.17 L1630.91 1006.31 L1631.15 1006.45 L1631.38 1006.59 L1631.61 1006.73 L1631.84 1006.87 L1632.07 1007.01 L1632.30 1007.15 L1632.53 1007.29 L1632.76 1007.43 L1632.99 1007.57 L1633.21 1007.71 L1633.44 1007.85 L1633.66 1007.99 L1633.89 1008.13 L1634.11 1008.26 L1634.33 1008.40 L1634.55 1008.54 L1634.77 1008.68 L1634.99 1008.82 L1635.21 1008.96 L1635.43 1009.10 L1635.64 1009.23 L1635.86 1009.37 L1636.07 1009.51 L1636.29 1009.65 L1636.50 1009.79 L1636.71 1009.92 L1636.92 1010.06 L1637.13 1010.20 L1637.34 1010.34 L1637.55 1010.47 L1637.76 1010.61 L1637.97 1010.75 L1638.17 1010.89 L1638.38 1011.02 L1638.58 1011.16 L1638.79 1011.30 L1638.99 1011.43 L1639.19 1011.57 L1639.39 1011.71 L1639.59 1011.85 L1639.79 1011.98 L1639.99 1012.12 L1640.19 1012.25 L1640.39 1012.39 L1640.58 1012.53 L1640.78 1012.66 L1640.97 1012.80 L1641.17 1012.94 L1641.36 1013.07 L1641.55 1013.21 L1641.74 1013.34 L1641.93 1013.48 L1642.12 1013.62 L1642.31 1013.75 L1642.50 1013.89 L1642.69 1014.02 L1642.88 1014.16 L1643.06 1014.29 L1643.25 1014.43 L1643.43 1014.56 L1643.61 1014.70 L1643.80 1014.83 L1643.98 1014.97 L1644.16 1015.10 L1644.34 1015.24 L1644.52 1015.37 L1644.70 1015.51 L1644.88 1015.64 L1645.06 1015.78 L1645.23 1015.91 L1645.41 1016.05 L1645.58 1016.18 L1645.76 1016.32 L1645.93 1016.45 L1646.10 1016.58 L1646.28 1016.72 L1646.45 1016.85 L1646.62 1016.99 L1646.79 1017.12 L1646.96 1017.25 L1647.13 1017.39 L1647.29 1017.52 L1647.46 1017.65 L1647.63 1017.79 L1647.79 1017.92 L1647.96 1018.05 L1648.12 1018.19 L1648.27 1018.31" fill="none" stroke="rgba(255,135,8,0.82)" stroke-width="8" stroke-linecap="round" stroke-linejoin="round"/>
<path d="M279.40 604.38 L279.45 605.18 L279.50 605.97 L279.56 606.77 L279.61 607.57 L279.67 608.36 L279.72 609.16 L279.78 609.95 L279.85 610.75 L279.91 611.54 L279.97 612.34 L280.04 613.14 L280.11 613.93 L280.18 614.73 L280.26 615.52 L280.33 616.32 L280.41 617.11 L280.49 617.91 L280.58 618.71 L280.66 619.50 L280.75 620.30 L280.85 621.09 L280.94 621.89 L281.04 622.69 L281.14 623.48 L281.24 624.28 L281.35 625.07 L281.46 625.87 L281.57 626.66 L281.68 627.46 L281.80 628.26 L281.93 629.05 L282.05 629.85 L282.18 630.64 L282.31 631.44 L282.45 632.23 L282.59 633.03 L282.74 633.83 L282.89 634.62 L283.04 635.42 L283.20 636.21 L283.36 637.01 L283.53 637.81 L283.70 638.60 L283.88 639.40 L284.06 640.19 L284.24 640.99 L284.43 641.78 L284.63 642.58 L284.83 643.38 L285.04 644.17 L285.25 644.97 L285.47 645.76 L285.70 646.56 L285.93 647.35 L286.16 648.15 L286.41 648.95 L286.65 649.74 L286.91 650.54 L287.17 651.33 L287.44 652.13 L287.72 652.93 L288.00 653.72 L288.29 654.52 L288.59 655.31 L288.89 656.11 L289.21 656.90 L289.53 657.70 L289.86 658.50 L290.19 659.29 L290.54 660.09 L290.89 660.88 L291.25 661.68 L291.63 662.47 L292.01 663.27 L292.40 664.07 L292.80 664.86 L293.20 665.66 L293.62 666.45 L294.05 667.25 L294.49 668.04 L294.94 668.84 L295.40 669.64 L295.87 670.43 L296.35 671.23 L296.85 672.02 L297.35 672.82 L297.87 673.62 L298.39 674.41 L298.93 675.21 L299.48 676.00 L300.05 676.80 L300.63 677.59 L301.22 678.39 L301.82 679.19 L302.43 679.98 L303.06 680.78 L303.71 681.57 L304.37 682.37 L305.04 683.16 L305.72 683.96 L306.42 684.76 L307.14 685.55 L307.87 686.35 L308.62 687.14 L309.38 687.94 L310.16 688.74 L310.95 689.53 L311.77 690.33 L312.59 691.12 L313.44 691.92 L314.30 692.71 L315.18 693.51 L316.08 694.31 L316.99 695.10 L317.92 695.90 L318.88 696.69 L319.85 697.49 L320.84 698.28 L321.85 699.08 L322.87 699.88 L323.92 700.67 L324.99 701.47 L326.08 702.26 L327.19 703.06 L328.32 703.86 L329.47 704.65 L330.65 705.45 L331.84 706.24 L333.06 707.04 L334.30 707.83 L335.56 708.63 L336.84 709.43 L338.15 710.22 L339.48 711.02 L340.84 711.81 L342.22 712.61 L343.62 713.40 L345.05 714.20 L346.50 715.00 L347.98 715.79 L349.48 716.59 L351.01 717.38 L352.56 718.18 L354.14 718.97 L355.75 719.77 L357.38 720.57 L359.04 721.36 L360.73 722.16 L362.44 722.95 L364.18 723.75 L365.95 724.55 L367.75 725.34 L369.58 726.14 L371.43 726.93 L373.32 727.73 L375.23 728.52 L377.18 729.32 L379.15 730.12 L381.15 730.91 L383.18 731.71 L385.25 732.50 L387.34 733.30 L389.47 734.09 L391.62 734.89 L393.81 735.69 L396.03 736.48 L398.28 737.28 L400.56 738.07 L402.88 738.87 L405.23 739.67 L407.61 740.46 L410.02 741.26 L412.46 742.05 L414.94 742.85 L417.45 743.64 L420.00 744.44 L422.58 745.24 L425.19 746.03 L427.84 746.83 L430.52 747.62 L433.24 748.42 L435.99 749.21 L438.77 750.01 L441.59 750.81 L444.45 751.60 L447.34 752.40 L450.26 753.19 L453.22 753.99 L456.22 754.79 L459.25 755.58 L462.31 756.38 L465.41 757.17 L468.55 757.97 L471.72 758.76 L474.93 759.56 L478.18 760.36 L481.46 761.15 L484.78 761.95 L488.13 762.74 L491.52 763.54 L494.94 764.33 L498.40 765.13 L501.90 765.93 L505.44 766.72 L509.00 767.52 L512.61 768.31 L516.25 769.11 L519.93 769.91 L523.64 770.70 L527.39 771.50 L531.18 772.29 L535.00 773.09 L538.86 773.88 L542.75 774.68 L546.68 775.48 L550.64 776.27 L554.64 777.07 L558.68 777.86 L562.75 778.66 L566.85 779.45 L570.99 780.25 L575.17 781.05 L579.38 781.84 L583.62 782.64 L587.90 783.43 L592.21 784.23 L596.55 785.02 L600.93 785.82 L605.35 786.62 L609.79 787.41 L614.27 788.21 L618.78 789.00 L623.33 789.80 L627.90 790.60 L632.51 791.39 L637.15 792.19 L641.83 792.98 L646.53 793.78 L651.26 794.57 L656.03 795.37 L660.82 796.17 L665.65 796.96 L670.50 797.76 L675.39 798.55 L680.30 799.35 L685.24 800.14 L690.21 800.94 L695.21 801.74 L700.23 802.53 L705.28 803.33 L710.36 804.12 L715.47 804.92 L720.60 805.72 L725.75 806.51 L730.93 807.31 L736.14 808.10 L741.37 808.90 L746.62 809.69 L751.90 810.49 L757.20 811.29 L762.52 812.08 L767.87 812.88 L773.23 813.67 L778.62 814.47 L784.03 815.26 L789.45 816.06 L794.90 816.86 L800.36 817.65 L805.85 818.45 L811.35 819.24 L816.87 820.04 L822.40 820.84 L827.95 821.63 L833.52 822.43 L839.10 823.22 L844.70 824.02 L850.31 824.81 L855.93 825.61 L861.57 826.41 L867.22 827.20 L872.88 828.00 L878.55 828.79 L884.24 829.59 L889.93 830.38 L895.63 831.18 L901.34 831.98 L907.06 832.77 L912.79 833.57 L918.52 834.36 L924.26 835.16 L930.01 835.95 L935.76 836.75 L941.52 837.55 L947.28 838.34 L953.04 839.14 L958.81 839.93 L964.57 840.73 L970.34 841.53 L976.11 842.32 L981.89 843.12 L987.66 843.91 L993.43 844.71 L999.19 845.50 L1004.96 846.30 L1010.72 847.10 L1016.48 847.89 L1022.24 848.69 L1027.99 849.48 L1033.74 850.28 L1039.48 851.07 L1045.21 851.87 L1050.94 852.67 L1056.66 853.46 L1062.37 854.26 L1068.07 855.05 L1073.76 855.85 L1079.45 856.65 L1085.12 857.44 L1090.78 858.24 L1096.43 859.03 L1102.07 859.83 L1107.69 860.62 L1113.30 861.42 L1118.90 862.22 L1124.48 863.01 L1130.05 863.81 L1135.60 864.60 L1141.13 865.40 L1146.65 866.19 L1152.15 866.99 L1157.64 867.79 L1163.10 868.58 L1168.55 869.38 L1173.97 870.17 L1179.38 870.97 L1184.77 871.77 L1190.13 872.56 L1195.48 873.36 L1200.80 874.15 L1206.10 874.95 L1211.38 875.74 L1216.63 876.54 L1221.86 877.34 L1227.07 878.13 L1232.25 878.93 L1237.40 879.72 L1242.53 880.52 L1247.64 881.31 L1252.72 882.11 L1257.77 882.91 L1262.79 883.70 L1267.79 884.50 L1272.76 885.29 L1277.70 886.09 L1282.61 886.89 L1287.50 887.68 L1292.35 888.48 L1297.18 889.27 L1301.97 890.07 L1306.74 890.86 L1311.47 891.66 L1316.17 892.46 L1320.85 893.25 L1325.49 894.05 L1330.10 894.84 L1334.67 895.64 L1339.22 896.43 L1343.73 897.23 L1348.21 898.03 L1352.65 898.82 L1357.07 899.62 L1361.45 900.41 L1365.79 901.21 L1370.10 902.00 L1374.38 902.80 L1378.62 903.60 L1382.83 904.39 L1387.01 905.19 L1391.15 905.98 L1395.25 906.78 L1399.32 907.58 L1403.36 908.37 L1407.36 909.17 L1411.32 909.96 L1415.25 910.76 L1419.14 911.55 L1423.00 912.35 L1426.82 913.15 L1430.61 913.94 L1434.36 914.74 L1438.07 915.53 L1441.75 916.33 L1445.39 917.12 L1449.00 917.92 L1452.56 918.72 L1456.10 919.51 L1459.60 920.31 L1463.06 921.10 L1466.48 921.90 L1469.87 922.70 L1473.22 923.49 L1476.54 924.29 L1479.82 925.08 L1483.07 925.88 L1486.28 926.67 L1489.45 927.47 L1492.59 928.27 L1495.69 929.06 L1498.75 929.86 L1501.78 930.65 L1504.78 931.45 L1507.74 932.24 L1510.66 933.04 L1513.55 933.84 L1516.41 934.63 L1519.23 935.43 L1522.01 936.22 L1524.76 937.02 L1527.48 937.82 L1530.16 938.61 L1532.81 939.41 L1535.42 940.20 L1538.00 941.00 L1540.55 941.79 L1543.06 942.59 L1545.54 943.39 L1547.98 944.18 L1550.39 944.98 L1552.77 945.77 L1555.12 946.57 L1557.44 947.36 L1559.72 948.16 L1561.97 948.96 L1564.19 949.75 L1566.38 950.55 L1568.53 951.34 L1570.66 952.14 L1572.75 952.93 L1574.82 953.73 L1576.85 954.53 L1578.85 955.32 L1580.82 956.12 L1582.77 956.91 L1584.68 957.71 L1586.57 958.51 L1588.42 959.30 L1590.25 960.10 L1592.05 960.89 L1593.82 961.69 L1595.56 962.48 L1597.27 963.28 L1598.96 964.08 L1600.62 964.87 L1602.25 965.67 L1603.86 966.46 L1605.44 967.26 L1606.99 968.05 L1608.52 968.85 L1610.02 969.65 L1611.50 970.44 L1612.95 971.24 L1614.38 972.03 L1615.78 972.83 L1617.16 973.63 L1618.52 974.42 L1619.85 975.22 L1621.16 976.01 L1622.44 976.81 L1623.70 977.60 L1624.94 978.40 L1626.16 979.20 L1627.35 979.99 L1628.53 980.79 L1629.68 981.58 L1630.81 982.38 L1631.92 983.17 L1633.01 983.97 L1634.08 984.77 L1635.13 985.56 L1636.15 986.36 L1637.16 987.15 L1638.15 987.95 L1639.12 988.75 L1640.08 989.54 L1641.01 990.34 L1641.92 991.13 L1642.82 991.93 L1643.70 992.72 L1644.56 993.52 L1645.41 994.32 L1646.23 995.11 L1647.05 995.91 L1647.84 996.70 L1648.62 997.50 L1649.38 998.29 L1650.13 999.09 L1650.86 999.89 L1651.58 1000.68 L1652.28 1001.48 L1652.96 1002.27 L1653.63 1003.07 L1654.29 1003.86 L1654.94 1004.66 L1655.57 1005.46 L1656.18 1006.25 L1656.78 1007.05 L1657.37 1007.84 L1657.95 1008.64 L1658.52 1009.44 L1659.07 1010.23 L1659.61 1011.03 L1660.13 1011.82 L1660.65 1012.62 L1661.15 1013.41 L1661.65 1014.21 L1662.13 1015.01 L1662.60 1015.80 L1663.06 1016.60 L1663.51 1017.39 L1663.95 1018.19 L1664.38 1018.98 L1664.80 1019.78 L1665.20 1020.58 L1665.60 1021.37 L1665.99 1022.17 L1666.37 1022.96 L1666.75 1023.76 L1667.11 1024.56 L1667.46 1025.35 L1667.81 1026.15 L1668.14 1026.94 L1668.47 1027.74 L1668.79 1028.53 L1669.11 1029.33 L1669.41 1030.13 L1669.71 1030.92 L1670.00 1031.72 L1670.28 1032.51 L1670.56 1033.31 L1670.83 1034.10 L1671.09 1034.90 L1671.35 1035.70 L1671.59 1036.49 L1671.84 1037.29 L1672.07 1038.08 L1672.30 1038.88 L1672.53 1039.68 L1672.75 1040.47 L1672.96 1041.27 L1673.17 1042.06 L1673.37 1042.86 L1673.57 1043.65 L1673.76 1044.45 L1673.94 1045.25 L1674.12 1046.04 L1674.30 1046.84 L1674.47 1047.63 L1674.64 1048.43 L1674.80 1049.22 L1674.96 1050.02 L1675.11 1050.82 L1675.26 1051.61 L1675.41 1052.41 L1675.55 1053.20 L1675.69 1054.00 L1675.82 1054.80 L1675.95 1055.59 L1676.07 1056.39 L1676.20 1057.18 L1676.32 1057.98 L1676.43 1058.77 L1676.54 1059.57 L1676.65 1060.37 L1676.76 1061.16 L1676.86 1061.96 L1676.96 1062.75 L1677.06 1063.55 L1677.15 1064.34 L1677.25 1065.14 L1677.34 1065.94 L1677.42 1066.73 L1677.51 1067.53 L1677.59 1068.32 L1677.67 1069.12 L1677.74 1069.91 L1677.82 1070.71 L1677.89 1071.51 L1677.96 1072.30 L1678.03 1073.10 L1678.09 1073.89 L1678.15 1074.69 L1678.22 1075.49 L1678.28 1076.28 L1678.33 1077.08 L1678.39 1077.87 L1678.44 1078.67 L1678.50 1079.46 L1678.55 1080.26 L1678.60 1081.06" fill="none" stroke="rgba(8,135,8,0.82)" stroke-width="8" stroke-linecap="round" stroke-linejoin="round"/>
<path d="M279.40 597.68 L279.45 598.51 L279.50 599.35 L279.56 600.18 L279.61 601.02 L279.67 601.86 L279.72 602.69 L279.78 603.53 L279.85 604.36 L279.91 605.20 L279.97 606.03 L280.04 606.87 L280.11 607.70 L280.18 608.53 L280.26 609.37 L280.33 610.20 L280.41 611.04 L280.49 611.87 L280.58 612.71 L280.66 613.54 L280.75 614.37 L280.85 615.21 L280.94 616.04 L281.04 616.87 L281.14 617.71 L281.24 618.54 L281.35 619.37 L281.46 620.21 L281.57 621.04 L281.68 621.87 L281.80 622.71 L281.93 623.54 L282.05 624.37 L282.18 625.20 L282.31 626.04 L282.45 626.87 L282.59 627.70 L282.74 628.53 L282.89 629.36 L283.04 630.19 L283.20 631.03 L283.36 631.86 L283.53 632.69 L283.70 633.52 L283.88 634.35 L284.06 635.18 L284.24 636.01 L284.43 636.85 L284.63 637.68 L284.83 638.51 L285.04 639.34 L285.25 640.17 L285.47 641.00 L285.70 641.83 L285.93 642.66 L286.16 643.49 L286.41 644.32 L286.65 645.15 L286.91 645.98 L287.17 646.81 L287.44 647.64 L287.72 648.47 L288.00 649.30 L288.29 650.12 L288.59 650.95 L288.89 651.78 L289.21 652.61 L289.53 653.44 L289.86 654.27 L290.19 655.10 L290.54 655.93 L290.89 656.75 L291.25 657.58 L291.63 658.41 L292.01 659.24 L292.40 660.07 L292.80 660.89 L293.20 661.72 L293.62 662.55 L294.05 663.38 L294.49 664.20 L294.94 665.03 L295.40 665.86 L295.87 666.69 L296.35 667.51 L296.85 668.34 L297.35 669.17 L297.87 669.99 L298.39 670.82 L298.93 671.65 L299.48 672.47 L300.05 673.30 L300.63 674.12 L301.22 674.95 L301.82 675.78 L302.43 676.60 L303.06 677.43 L303.71 678.25 L304.37 679.08 L305.04 679.90 L305.72 680.73 L306.42 681.55 L307.14 682.38 L307.87 683.20 L308.62 684.03 L309.38 684.85 L310.16 685.68 L310.95 686.50 L311.77 687.33 L312.59 688.15 L313.44 688.97 L314.30 689.80 L315.18 690.62 L316.08 691.45 L316.99 692.27 L317.92 693.09 L318.88 693.92 L319.85 694.74 L320.84 695.56 L321.85 696.39 L322.87 697.21 L323.92 698.03 L324.99 698.86 L326.08 699.68 L327.19 700.50 L328.32 701.32 L329.47 702.15 L330.65 702.97 L331.84 703.79 L333.06 704.61 L334.30 705.43 L335.56 706.26 L336.84 707.08 L338.15 707.90 L339.48 708.72 L340.84 709.54 L342.22 710.36 L343.62 711.19 L345.05 712.01 L346.50 712.83 L347.98 713.65 L349.48 714.47 L351.01 715.29 L352.56 716.11 L354.14 716.93 L355.75 717.75 L357.38 718.57 L359.04 719.39 L360.73 720.21 L362.44 721.03 L364.18 721.85 L365.95 722.67 L367.75 723.49 L369.58 724.31 L371.43 725.13 L373.32 725.95 L375.23 726.77 L377.18 727.59 L379.15 728.41 L381.15 729.23 L383.18 730.04 L385.25 730.86 L387.34 731.68 L389.47 732.50 L391.62 733.32 L393.81 734.14 L396.03 734.95 L398.28 735.77 L400.56 736.59 L402.88 737.41 L405.23 738.23 L407.61 739.04 L410.02 739.86 L412.46 740.68 L414.94 741.50 L417.45 742.31 L420.00 743.13 L422.58 743.95 L425.19 744.76 L427.84 745.58 L430.52 746.40 L433.24 747.21 L435.99 748.03 L438.77 748.85 L441.59 749.66 L444.45 750.48 L447.34 751.29 L450.26 752.11 L453.22 752.93 L456.22 753.74 L459.25 754.56 L462.31 755.37 L465.41 756.19 L468.55 757.00 L471.72 757.82 L474.93 758.63 L478.18 759.45 L481.46 760.26 L484.78 761.08 L488.13 761.89 L491.52 762.71 L494.94 763.52 L498.40 764.34 L501.90 765.15 L505.44 765.96 L509.00 766.78 L512.61 767.59 L516.25 768.41 L519.93 769.22 L523.64 770.03 L527.39 770.85 L531.18 771.66 L535.00 772.47 L538.86 773.29 L542.75 774.10 L546.68 774.91 L550.64 775.72 L554.64 776.54 L558.68 777.35 L562.75 778.16 L566.85 778.97 L570.99 779.79 L575.17 780.60 L579.38 781.41 L583.62 782.22 L587.90 783.03 L592.21 783.85 L596.55 784.66 L600.93 785.47 L605.35 786.28 L609.79 787.09 L614.27 787.90 L618.78 788.71 L623.33 789.53 L627.90 790.34 L632.51 791.15 L637.15 791.96 L641.83 792.77 L646.53 793.58 L651.26 794.39 L656.03 795.20 L660.82 796.01 L665.65 796.82 L670.50 797.63 L675.39 798.44 L680.30 799.25 L685.24 800.06 L690.21 800.87 L695.21 801.68 L700.23 802.49 L705.28 803.30 L710.36 804.11 L715.47 804.91 L720.60 805.72 L725.75 806.53 L730.93 807.34 L736.14 808.15 L741.37 808.96 L746.62 809.77 L751.90 810.57 L757.20 811.38 L762.52 812.19 L767.87 813.00 L773.23 813.81 L778.62 814.61 L784.03 815.42 L789.45 816.23 L794.90 817.04 L800.36 817.84 L805.85 818.65 L811.35 819.46 L816.87 820.26 L822.40 821.07 L827.95 821.88 L833.52 822.68 L839.10 823.49 L844.70 824.30 L850.31 825.10 L855.93 825.91 L861.57 826.72 L867.22 827.52 L872.88 828.33 L878.55 829.13 L884.24 829.94 L889.93 830.74 L895.63 831.55 L901.34 832.36 L907.06 833.16 L912.79 833.97 L918.52 834.77 L924.26 835.58 L930.01 836.38 L935.76 837.19 L941.52 837.99 L947.28 838.79 L953.04 839.60 L958.81 840.40 L964.57 841.21 L970.34 842.01 L976.11 842.82 L981.89 843.62 L987.66 844.42 L993.43 845.23 L999.19 846.03 L1004.96 846.83 L1010.72 847.64 L1016.48 848.44 L1022.24 849.24 L1027.99 850.05 L1033.74 850.85 L1039.48 851.65 L1045.21 852.45 L1050.94 853.26 L1056.66 854.06 L1062.37 854.86 L1068.07 855.66 L1073.76 856.47 L1079.45 857.27 L1085.12 858.07 L1090.78 858.87 L1096.43 859.67 L1102.07 860.48 L1107.69 861.28 L1113.30 862.08 L1118.90 862.88 L1124.48 863.68 L1130.05 864.48 L1135.60 865.28 L1141.13 866.08 L1146.65 866.88 L1152.15 867.69 L1157.64 868.49 L1163.10 869.29 L1168.55 870.09 L1173.97 870.89 L1179.38 871.69 L1184.77 872.49 L1190.13 873.29 L1195.48 874.09 L1200.80 874.89 L1206.10 875.69 L1211.38 876.49 L1216.63 877.29 L1221.86 878.08 L1227.07 878.88 L1232.25 879.68 L1237.40 880.48 L1242.53 881.28 L1247.64 882.08 L1252.72 882.88 L1257.77 883.68 L1262.79 884.48 L1267.79 885.27 L1272.76 886.07 L1277.70 886.87 L1282.61 887.67 L1287.50 888.47 L1292.35 889.26 L1297.18 890.06 L1301.97 890.86 L1306.74 891.66 L1311.47 892.45 L1316.17 893.25 L1320.85 894.05 L1325.49 894.85 L1330.10 895.64 L1334.67 896.44 L1339.22 897.24 L1343.73 898.03 L1348.21 898.83 L1352.65 899.63 L1357.07 900.42 L1361.45 901.22 L1365.79 902.01 L1370.10 902.81 L1374.38 903.61 L1378.62 904.40 L1382.83 905.20 L1387.01 905.99 L1391.15 906.79 L1395.25 907.58 L1399.32 908.38 L1403.36 909.17 L1407.36 909.97 L1411.32 910.76 L1415.25 911.56 L1419.14 912.35 L1423.00 913.15 L1426.82 913.94 L1430.61 914.74 L1434.36 915.53 L1438.07 916.33 L1441.75 917.12 L1445.39 917.91 L1449.00 918.71 L1452.56 919.50 L1456.10 920.30 L1459.60 921.09 L1463.06 921.88 L1466.48 922.68 L1469.87 923.47 L1473.22 924.26 L1476.54 925.06 L1479.82 925.85 L1483.07 926.64 L1486.28 927.43 L1489.45 928.23 L1492.59 929.02 L1495.69 929.81 L1498.75 930.60 L1501.78 931.40 L1504.78 932.19 L1507.74 932.98 L1510.66 933.77 L1513.55 934.56 L1516.41 935.36 L1519.23 936.15 L1522.01 936.94 L1524.76 937.73 L1527.48 938.52 L1530.16 939.31 L1532.81 940.10 L1535.42 940.89 L1538.00 941.69 L1540.55 942.48 L1543.06 943.27 L1545.54 944.06 L1547.98 944.85 L1550.39 945.64 L1552.77 946.43 L1555.12 947.22 L1557.44 948.01 L1559.72 948.80 L1561.97 949.59 L1564.19 950.38 L1566.38 951.17 L1568.53 951.96 L1570.66 952.75 L1572.75 953.54 L1574.82 954.32 L1576.85 955.11 L1578.85 955.90 L1580.82 956.69 L1582.77 957.48 L1584.68 958.27 L1586.57 959.06 L1588.42 959.85 L1590.25 960.63 L1592.05 961.42 L1593.82 962.21 L1595.56 963.00 L1597.27 963.79 L1598.96 964.57 L1600.62 965.36 L1602.25 966.15 L1603.86 966.94 L1605.44 967.72 L1606.99 968.51 L1608.52 969.30 L1610.02 970.09 L1611.50 970.87 L1612.95 971.66 L1614.38 972.45 L1615.78 973.23 L1617.16 974.02 L1618.52 974.81 L1619.85 975.59 L1621.16 976.38 L1622.44 977.16 L1623.70 977.95 L1624.94 978.74 L1626.16 979.52 L1627.35 980.31 L1628.53 981.09 L1629.68 981.88 L1630.81 982.66 L1631.92 983.45 L1633.01 984.23 L1634.08 985.02 L1635.13 985.80 L1636.15 986.59 L1637.16 987.37 L1638.15 988.16 L1639.12 988.94 L1640.08 989.73 L1641.01 990.51 L1641.92 991.30 L1642.82 992.08 L1643.70 992.86 L1644.56 993.65 L1645.41 994.43 L1646.23 995.22 L1647.05 996.00 L1647.84 996.78 L1648.62 997.57 L1649.38 998.35 L1650.13 999.13 L1650.86 999.91 L1651.58 1000.70 L1652.28 1001.48 L1652.96 1002.26 L1653.63 1003.05 L1654.29 1003.83 L1654.94 1004.61 L1655.57 1005.39 L1656.18 1006.18 L1656.78 1006.96 L1657.37 1007.74 L1657.95 1008.52 L1658.52 1009.30 L1659.07 1010.08 L1659.61 1010.87 L1660.13 1011.65 L1660.65 1012.43 L1661.15 1013.21 L1661.65 1013.99 L1662.13 1014.77 L1662.60 1015.55 L1663.06 1016.33 L1663.51 1017.12 L1663.95 1017.90 L1664.38 1018.68 L1664.80 1019.46 L1665.20 1020.24 L1665.60 1021.02 L1665.99 1021.80 L1666.37 1022.58 L1666.75 1023.36 L1667.11 1024.14 L1667.46 1024.92 L1667.81 1025.70 L1668.14 1026.48 L1668.47 1027.26 L1668.79 1028.03 L1669.11 1028.81 L1669.41 1029.59 L1669.71 1030.37 L1670.00 1031.15 L1670.28 1031.93 L1670.56 1032.71 L1670.83 1033.49 L1671.09 1034.26 L1671.35 1035.04 L1671.59 1035.82 L1671.84 1036.60 L1672.07 1037.38 L1672.30 1038.16 L1672.53 1038.93 L1672.75 1039.71 L1672.96 1040.49 L1673.17 1041.27 L1673.37 1042.04 L1673.57 1042.82 L1673.76 1043.60 L1673.94 1044.37 L1674.12 1045.15 L1674.30 1045.93 L1674.47 1046.71 L1674.64 1047.48 L1674.80 1048.26 L1674.96 1049.03 L1675.11 1049.81 L1675.26 1050.59 L1675.41 1051.36 L1675.55 1052.14 L1675.69 1052.92 L1675.82 1053.69 L1675.95 1054.47 L1676.07 1055.24 L1676.20 1056.02 L1676.32 1056.79 L1676.43 1057.57 L1676.54 1058.34 L1676.65 1059.12 L1676.76 1059.89 L1676.86 1060.67 L1676.96 1061.44 L1677.06 1062.22 L1677.15 1062.99 L1677.25 1063.77 L1677.34 1064.54 L1677.42 1065.32 L1677.51 1066.09 L1677.59 1066.86 L1677.67 1067.64 L1677.74 1068.41 L1677.82 1069.19 L1677.89 1069.96 L1677.96 1070.73 L1678.03 1071.51 L1678.09 1072.28 L1678.15 1073.05 L1678.22 1073.83 L1678.28 1074.60 L1678.33 1075.37 L1678.39 1076.14 L1678.44 1076.92 L1678.50 1077.69 L1678.55 1078.46 L1678.60 1079.23" fill="none" stroke="rgba(183,123,231,0.82)" stroke-width="8" stroke-linecap="round" stroke-linejoin="round" stroke-dasharray="47.5 31.8 6 31.8" stroke-dashoffset="1.5"/>
<path d="M279.40 588.01 L279.45 588.90 L279.50 589.79 L279.56 590.68 L279.61 591.57 L279.67 592.47 L279.72 593.36 L279.78 594.25 L279.85 595.14 L279.91 596.03 L279.97 596.92 L280.04 597.81 L280.11 598.69 L280.18 599.58 L280.26 600.47 L280.33 601.36 L280.41 602.25 L280.49 603.14 L280.58 604.02 L280.66 604.91 L280.75 605.80 L280.85 606.69 L280.94 607.57 L281.04 608.46 L281.14 609.34 L281.24 610.23 L281.35 611.12 L281.46 612.00 L281.57 612.89 L281.68 613.77 L281.80 614.66 L281.93 615.54 L282.05 616.42 L282.18 617.31 L282.31 618.19 L282.45 619.07 L282.59 619.96 L282.74 620.84 L282.89 621.72 L283.04 622.60 L283.20 623.49 L283.36 624.37 L283.53 625.25 L283.70 626.13 L283.88 627.01 L284.06 627.89 L284.24 628.77 L284.43 629.65 L284.63 630.53 L284.83 631.41 L285.04 632.29 L285.25 633.17 L285.47 634.05 L285.70 634.93 L285.93 635.81 L286.16 636.68 L286.41 637.56 L286.65 638.44 L286.91 639.32 L287.17 640.19 L287.44 641.07 L287.72 641.95 L288.00 642.82 L288.29 643.70 L288.59 644.58 L288.89 645.45 L289.21 646.33 L289.53 647.20 L289.86 648.08 L290.19 648.95 L290.54 649.82 L290.89 650.70 L291.25 651.57 L291.63 652.45 L292.01 653.32 L292.40 654.19 L292.80 655.06 L293.20 655.94 L293.62 656.81 L294.05 657.68 L294.49 658.55 L294.94 659.42 L295.40 660.30 L295.87 661.17 L296.35 662.04 L296.85 662.91 L297.35 663.78 L297.87 664.65 L298.39 665.52 L298.93 666.39 L299.48 667.26 L300.05 668.12 L300.63 668.99 L301.22 669.86 L301.82 670.73 L302.43 671.60 L303.06 672.46 L303.71 673.33 L304.37 674.20 L305.04 675.07 L305.72 675.93 L306.42 676.80 L307.14 677.66 L307.87 678.53 L308.62 679.40 L309.38 680.26 L310.16 681.13 L310.95 681.99 L311.77 682.86 L312.59 683.72 L313.44 684.58 L314.30 685.45 L315.18 686.31 L316.08 687.17 L316.99 688.04 L317.92 688.90 L318.88 689.76 L319.85 690.63 L320.84 691.49 L321.85 692.35 L322.87 693.21 L323.92 694.07 L324.99 694.93 L326.08 695.79 L327.19 696.65 L328.32 697.51 L329.47 698.37 L330.65 699.23 L331.84 700.09 L333.06 700.95 L334.30 701.81 L335.56 702.67 L336.84 703.53 L338.15 704.39 L339.48 705.25 L340.84 706.10 L342.22 706.96 L343.62 707.82 L345.05 708.68 L346.50 709.53 L347.98 710.39 L349.48 711.24 L351.01 712.10 L352.56 712.96 L354.14 713.81 L355.75 714.67 L357.38 715.52 L359.04 716.38 L360.73 717.23 L362.44 718.09 L364.18 718.94 L365.95 719.79 L367.75 720.65 L369.58 721.50 L371.43 722.35 L373.32 723.21 L375.23 724.06 L377.18 724.91 L379.15 725.76 L381.15 726.61 L383.18 727.47 L385.25 728.32 L387.34 729.17 L389.47 730.02 L391.62 730.87 L393.81 731.72 L396.03 732.57 L398.28 733.42 L400.56 734.27 L402.88 735.12 L405.23 735.97 L407.61 736.82 L410.02 737.66 L412.46 738.51 L414.94 739.36 L417.45 740.21 L420.00 741.06 L422.58 741.90 L425.19 742.75 L427.84 743.60 L430.52 744.44 L433.24 745.29 L435.99 746.14 L438.77 746.98 L441.59 747.83 L444.45 748.67 L447.34 749.52 L450.26 750.36 L453.22 751.21 L456.22 752.05 L459.25 752.89 L462.31 753.74 L465.41 754.58 L468.55 755.43 L471.72 756.27 L474.93 757.11 L478.18 757.95 L481.46 758.80 L484.78 759.64 L488.13 760.48 L491.52 761.32 L494.94 762.16 L498.40 763.00 L501.90 763.85 L505.44 764.69 L509.00 765.53 L512.61 766.37 L516.25 767.21 L519.93 768.05 L523.64 768.89 L527.39 769.72 L531.18 770.56 L535.00 771.40 L538.86 772.24 L542.75 773.08 L546.68 773.92 L550.64 774.75 L554.64 775.59 L558.68 776.43 L562.75 777.27 L566.85 778.10 L570.99 778.94 L575.17 779.77 L579.38 780.61 L583.62 781.45 L587.90 782.28 L592.21 783.12 L596.55 783.95 L600.93 784.79 L605.35 785.62 L609.79 786.46 L614.27 787.29 L618.78 788.12 L623.33 788.96 L627.90 789.79 L632.51 790.62 L637.15 791.46 L641.83 792.29 L646.53 793.12 L651.26 793.95 L656.03 794.78 L660.82 795.62 L665.65 796.45 L670.50 797.28 L675.39 798.11 L680.30 798.94 L685.24 799.77 L690.21 800.60 L695.21 801.43 L700.23 802.26 L705.28 803.09 L710.36 803.92 L715.47 804.75 L720.60 805.58 L725.75 806.40 L730.93 807.23 L736.14 808.06 L741.37 808.89 L746.62 809.71 L751.90 810.54 L757.20 811.37 L762.52 812.20 L767.87 813.02 L773.23 813.85 L778.62 814.67 L784.03 815.50 L789.45 816.33 L794.90 817.15 L800.36 817.98 L805.85 818.80 L811.35 819.62 L816.87 820.45 L822.40 821.27 L827.95 822.10 L833.52 822.92 L839.10 823.74 L844.70 824.57 L850.31 825.39 L855.93 826.21 L861.57 827.03 L867.22 827.86 L872.88 828.68 L878.55 829.50 L884.24 830.32 L889.93 831.14 L895.63 831.96 L901.34 832.78 L907.06 833.60 L912.79 834.43 L918.52 835.25 L924.26 836.06 L930.01 836.88 L935.76 837.70 L941.52 838.52 L947.28 839.34 L953.04 840.16 L958.81 840.98 L964.57 841.80 L970.34 842.61 L976.11 843.43 L981.89 844.25 L987.66 845.07 L993.43 845.88 L999.19 846.70 L1004.96 847.52 L1010.72 848.33 L1016.48 849.15 L1022.24 849.96 L1027.99 850.78 L1033.74 851.59 L1039.48 852.41 L1045.21 853.22 L1050.94 854.04 L1056.66 854.85 L1062.37 855.67 L1068.07 856.48 L1073.76 857.29 L1079.45 858.11 L1085.12 858.92 L1090.78 859.73 L1096.43 860.54 L1102.07 861.36 L1107.69 862.17 L1113.30 862.98 L1118.90 863.79 L1124.48 864.60 L1130.05 865.42 L1135.60 866.23 L1141.13 867.04 L1146.65 867.85 L1152.15 868.66 L1157.64 869.47 L1163.10 870.28 L1168.55 871.09 L1173.97 871.90 L1179.38 872.70 L1184.77 873.51 L1190.13 874.32 L1195.48 875.13 L1200.80 875.94 L1206.10 876.75 L1211.38 877.55 L1216.63 878.36 L1221.86 879.17 L1227.07 879.97 L1232.25 880.78 L1237.40 881.59 L1242.53 882.39 L1247.64 883.20 L1252.72 884.01 L1257.77 884.81 L1262.79 885.62 L1267.79 886.42 L1272.76 887.23 L1277.70 888.03 L1282.61 888.83 L1287.50 889.64 L1292.35 890.44 L1297.18 891.25 L1301.97 892.05 L1306.74 892.85 L1311.47 893.66 L1316.17 894.46 L1320.85 895.26 L1325.49 896.06 L1330.10 896.86 L1334.67 897.67 L1339.22 898.47 L1343.73 899.27 L1348.21 900.07 L1352.65 900.87 L1357.07 901.67 L1361.45 902.47 L1365.79 903.27 L1370.10 904.07 L1374.38 904.87 L1378.62 905.67 L1382.83 906.47 L1387.01 907.27 L1391.15 908.07 L1395.25 908.86 L1399.32 909.66 L1403.36 910.46 L1407.36 911.26 L1411.32 912.06 L1415.25 912.85 L1419.14 913.65 L1423.00 914.45 L1426.82 915.24 L1430.61 916.04 L1434.36 916.84 L1438.07 917.63 L1441.75 918.43 L1445.39 919.22 L1449.00 920.02 L1452.56 920.81 L1456.10 921.61 L1459.60 922.40 L1463.06 923.20 L1466.48 923.99 L1469.87 924.78 L1473.22 925.58 L1476.54 926.37 L1479.82 927.16 L1483.07 927.96 L1486.28 928.75 L1489.45 929.54 L1492.59 930.33 L1495.69 931.13 L1498.75 931.92 L1501.78 932.71 L1504.78 933.50 L1507.74 934.29 L1510.66 935.08 L1513.55 935.87 L1516.41 936.66 L1519.23 937.45 L1522.01 938.24 L1524.76 939.03 L1527.48 939.82 L1530.16 940.61 L1532.81 941.40 L1535.42 942.19 L1538.00 942.98 L1540.55 943.76 L1543.06 944.55 L1545.54 945.34 L1547.98 946.13 L1550.39 946.91 L1552.77 947.70 L1555.12 948.49 L1557.44 949.27 L1559.72 950.06 L1561.97 950.85 L1564.19 951.63 L1566.38 952.42 L1568.53 953.20 L1570.66 953.99 L1572.75 954.77 L1574.82 955.56 L1576.85 956.34 L1578.85 957.13 L1580.82 957.91 L1582.77 958.70 L1584.68 959.48 L1586.57 960.26 L1588.42 961.05 L1590.25 961.83 L1592.05 962.61 L1593.82 963.39 L1595.56 964.18 L1597.27 964.96 L1598.96 965.74 L1600.62 966.52 L1602.25 967.30 L1603.86 968.08 L1605.44 968.86 L1606.99 969.65 L1608.52 970.43 L1610.02 971.21 L1611.50 971.99 L1612.95 972.77 L1614.38 973.54 L1615.78 974.32 L1617.16 975.10 L1618.52 975.88 L1619.85 976.66 L1621.16 977.44 L1622.44 978.22 L1623.70 978.99 L1624.94 979.77 L1626.16 980.55 L1627.35 981.33 L1628.53 982.10 L1629.68 982.88 L1630.81 983.66 L1631.92 984.43 L1633.01 985.21 L1634.08 985.99 L1635.13 986.76 L1636.15 987.54 L1637.16 988.31 L1638.15 989.09 L1639.12 989.86 L1640.08 990.64 L1641.01 991.41 L1641.92 992.18 L1642.82 992.96 L1643.70 993.73 L1644.56 994.50 L1645.41 995.28 L1646.23 996.05 L1647.05 996.82 L1647.84 997.60 L1648.62 998.37 L1649.38 999.14 L1650.13 999.91 L1650.86 1000.68 L1651.58 1001.45 L1652.28 1002.23 L1652.96 1003.00 L1653.63 1003.77 L1654.29 1004.54 L1654.94 1005.31 L1655.57 1006.08 L1656.18 1006.85 L1656.78 1007.62 L1657.37 1008.39 L1657.95 1009.15 L1658.52 1009.92 L1659.07 1010.69 L1659.61 1011.46 L1660.13 1012.23 L1660.65 1013.00 L1661.15 1013.76 L1661.65 1014.53 L1662.13 1015.30 L1662.60 1016.07 L1663.06 1016.83 L1663.51 1017.60 L1663.95 1018.37 L1664.38 1019.13 L1664.80 1019.90 L1665.20 1020.66 L1665.60 1021.43 L1665.99 1022.19 L1666.37 1022.96 L1666.75 1023.72 L1667.11 1024.49 L1667.46 1025.25 L1667.81 1026.02 L1668.14 1026.78 L1668.47 1027.54 L1668.79 1028.31 L1669.11 1029.07 L1669.41 1029.83 L1669.71 1030.60 L1670.00 1031.36 L1670.28 1032.12 L1670.56 1032.88 L1670.83 1033.65 L1671.09 1034.41 L1671.35 1035.17 L1671.59 1035.93 L1671.84 1036.69 L1672.07 1037.45 L1672.30 1038.21 L1672.53 1038.97 L1672.75 1039.73 L1672.96 1040.49 L1673.17 1041.25 L1673.37 1042.01 L1673.57 1042.77 L1673.76 1043.53 L1673.94 1044.29 L1674.12 1045.05 L1674.30 1045.81 L1674.47 1046.56 L1674.64 1047.32 L1674.80 1048.08 L1674.96 1048.84 L1675.11 1049.59 L1675.26 1050.35 L1675.41 1051.11 L1675.55 1051.86 L1675.69 1052.62 L1675.82 1053.38 L1675.95 1054.13 L1676.07 1054.89 L1676.20 1055.64 L1676.32 1056.40 L1676.43 1057.15 L1676.54 1057.91 L1676.65 1058.66 L1676.76 1059.42 L1676.86 1060.17 L1676.96 1060.93 L1677.06 1061.68 L1677.15 1062.43 L1677.25 1063.19 L1677.34 1063.94 L1677.42 1064.69 L1677.51 1065.44 L1677.59 1066.20 L1677.67 1066.95 L1677.74 1067.70 L1677.82 1068.45 L1677.89 1069.20 L1677.96 1069.96 L1678.03 1070.71 L1678.09 1071.46 L1678.15 1072.21 L1678.22 1072.96 L1678.28 1073.71 L1678.33 1074.46 L1678.39 1075.21 L1678.44 1075.96 L1678.50 1076.71 L1678.55 1077.46 L1678.60 1078.20" fill="none" stroke="rgba(87,195,255,0.82)" stroke-width="8" stroke-linecap="round" stroke-linejoin="round" stroke-dasharray="33.5 31.83 6 31.83 6 31.83" stroke-dashoffset="3.0"/>
<rect x="208.3" y="34.5" width="1540.8" height="1241.5" fill="none" stroke="#000" stroke-width="4"/>
<path d="M278.00 1276.0V1252.0M278.00 34.5V58.5M418.20 1276.0V1264.0M418.20 34.5V46.5M558.40 1276.0V1252.0M558.40 34.5V58.5M698.60 1276.0V1264.0M698.60 34.5V46.5M838.80 1276.0V1252.0M838.80 34.5V58.5M979.00 1276.0V1264.0M979.00 34.5V46.5M1119.20 1276.0V1252.0M1119.20 34.5V58.5M1259.40 1276.0V1264.0M1259.40 34.5V46.5M1399.60 1276.0V1252.0M1399.60 34.5V58.5M1539.80 1276.0V1264.0M1539.80 34.5V46.5M1680.00 1276.0V1252.0M1680.00 34.5V58.5M208.3 1152.25H232.3M1749.1 1152.25H1725.1M208.3 1028.02H220.3M1749.1 1028.02H1737.1M208.3 903.80H232.3M1749.1 903.80H1725.1M208.3 779.58H220.3M1749.1 779.58H1737.1M208.3 655.35H232.3M1749.1 655.35H1725.1M208.3 531.12H220.3M1749.1 531.12H1737.1M208.3 406.90H232.3M1749.1 406.90H1725.1M208.3 282.67H220.3M1749.1 282.67H1737.1M208.3 158.45H232.3M1749.1 158.45H1725.1" stroke="#000" stroke-width="4" fill="none"/>
<text class="t" font-size="47.0" text-anchor="end" transform="translate(181.5 179.45) scale(1.117 1)">280</text>
<text class="t" font-size="47.0" text-anchor="end" transform="translate(181.5 427.90) scale(1.117 1)">260</text>
<text class="t" font-size="47.0" text-anchor="end" transform="translate(181.5 676.35) scale(1.117 1)">240</text>
<text class="t" font-size="47.0" text-anchor="end" transform="translate(181.5 924.80) scale(1.117 1)">220</text>
<text class="t" font-size="47.0" text-anchor="end" transform="translate(181.5 1173.25) scale(1.117 1)">200</text>
<text class="t" font-size="47.0" text-anchor="middle" transform="translate(278.60 1347.8) scale(1.117 1)">0%</text>
<text class="t" font-size="47.0" text-anchor="middle" transform="translate(559.00 1347.8) scale(1.117 1)">20%</text>
<text class="t" font-size="47.0" text-anchor="middle" transform="translate(839.40 1347.8) scale(1.117 1)">40%</text>
<text class="t" font-size="47.0" text-anchor="middle" transform="translate(1119.80 1347.8) scale(1.117 1)">60%</text>
<text class="t" font-size="47.0" text-anchor="middle" transform="translate(1400.20 1347.8) scale(1.117 1)">80%</text>
<text class="t" font-size="47.0" text-anchor="middle" transform="translate(1680.60 1347.8) scale(1.117 1)">100%</text>
<rect x="628.85" y="258.30" width="1060.05" height="336.50" fill="#fff" stroke="#505050" stroke-width="2"/>
<text class="t" font-size="44.4" transform="translate(760.5 306.60) scale(1.122 1)">Historical Water Level</text>
<text class="t" font-size="44.4" transform="translate(760.5 361.40) scale(1.122 1)">GEV Fitted Water Level</text>
<text class="t" font-size="44.4" transform="translate(760.5 416.20) scale(1.122 1)">Gumbel Fitted Water Level</text>
<text class="t" font-size="44.4" transform="translate(760.5 471.00) scale(1.122 1)">Log-Normal Fitted Water Level</text>
<text class="t" font-size="44.4" transform="translate(760.5 525.80) scale(1.122 1)">Pearson Type 3 Fitted Water Level</text>
<text class="t" font-size="44.4" transform="translate(760.5 580.60) scale(1.122 1)">Log-Pearson Type 3 Fitted Water Level</text>
<circle cx="684.9" cy="289.3" r="13.7" fill="#0000ff"/>
<path d="M635.5 344.1H735" stroke="rgba(248,60,64,0.8)" stroke-width="8" stroke-linecap="round" fill="none"/>
<path d="M635.5 398.9H735" stroke="rgba(255,135,8,0.82)" stroke-width="8" stroke-linecap="round" fill="none" stroke-dasharray="37.4 54.7"/>
<path d="M635.5 453.7H735" stroke="rgba(8,135,8,0.82)" stroke-width="8" stroke-linecap="round" fill="none"/>
<path d="M635.5 508.5H735" stroke="rgba(183,123,231,0.82)" stroke-width="8" stroke-linecap="round" fill="none" stroke-dasharray="47.5 31.8 6 31.8"/>
<path d="M635.5 563.3H735" stroke="rgba(87,195,255,0.82)" stroke-width="8" stroke-linecap="round" fill="none" stroke-dasharray="33.5 31.83 6 31.83 6 31.83"/>
<text class="t" font-size="58.0" text-anchor="middle" transform="translate(976.5 1432.5) scale(1.117 1)">Exceedance Probability</text>
<text class="t" font-size="58.0" text-anchor="middle" transform="translate(78.5 650.5) rotate(-90) scale(1.117 1)">Water Level<tspan class="fw" dx="-4.9">（</tspan><tspan dx="4.9">/m</tspan><tspan class="fw" dx="4.5">）</tspan></text>
</svg></body></html>
